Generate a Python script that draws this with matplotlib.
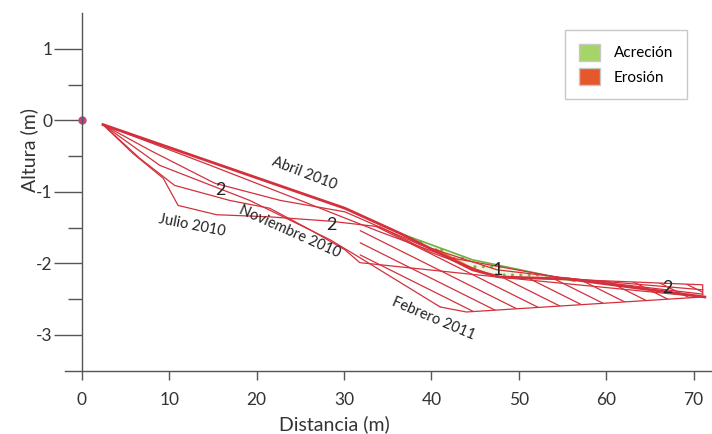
import numpy as np
import matplotlib
matplotlib.use("Agg")
import matplotlib.pyplot as plt
from matplotlib.patches import Polygon, Patch

plt.rcParams['font.family'] = ['Lato', 'DejaVu Sans']
plt.rcParams['axes.unicode_minus'] = False

# perfiles de playa (distancia m, altura m)
abril_x = [2.4, 19.2, 30.1, 36.4, 44.7, 47.8, 55.8, 71.3]
abril_y = [-0.06, -0.77, -1.23, -1.58, -2.09, -2.19, -2.22, -2.47]

acrec_x = [36.4, 44.7, 56.4]
acrec_y = [-1.58, -1.95, -2.25]

p2_x = [2.4, 14.7, 25.0, 34.1, 42.1, 54.7, 71.05]
p2_y = [-0.06, -0.63, -1.12, -1.56, -1.92, -2.20, -2.37]

p3_x = [2.4, 7.8, 15.2, 22.7, 30.1, 38.7, 47.5, 71.05]
p3_y = [-0.06, -0.42, -0.88, -1.12, -1.28, -1.74, -2.09, -2.43]

julio_x = [2.4, 5.8, 9.3, 11.0, 15.4, 21.5, 28.4, 34.1, 39.8, 47.5, 57.0, 71.05, 71.05]
julio_y = [-0.06, -0.46, -0.81, -1.19, -1.32, -1.35, -1.41, -1.49, -1.84, -2.19, -2.23, -2.30, -2.44]

nov_x = [2.4, 6.6, 10.6, 16.9, 21.5, 26.1, 30.1, 31.8, 47.5, 71.05]
nov_y = [-0.06, -0.53, -0.91, -1.12, -1.23, -1.53, -1.81, -1.99, -2.19, -2.47]

feb_x = [2.4, 8.9, 19.2, 28.4, 31.8, 41.0, 44.0, 71.05]
feb_y = [-0.06, -0.63, -1.12, -1.67, -1.92, -2.61, -2.68, -2.47]

etiquetas = ["Abril 2010", "Julio 2010", "Noviembre 2010", "Febrero 2011"]
etiq_x = [25.5, 12.6, 23.8, 40.2]
etiq_y = [-0.74, -1.47, -1.55, -2.78]
etiq_rot = [-21, -11, -24, -23]

zonas = ["2", "2", "1", "2"]
zona_x = [15.8, 28.6, 47.6, 67.0]
zona_y = [-0.98, -1.46, -2.09, -2.34]

rojo = '#d3303c'

fig = plt.figure(figsize=(7.12, 4.34), dpi=100)
ax = fig.add_axes([0.0906, 0.146, 0.908, 0.824])
ax.set_xlim(-2, 72)
ax.set_ylim(-3.5, 1.5)

# zona erosionada con rayado
x_sup = [x for x in julio_x if x >= 31.8]
y_sup = [y for x, y in zip(julio_x, julio_y) if x >= 31.8]
x_inf = [x for x in feb_x if x >= 31.8]
y_inf = [y for x, y in zip(feb_x, feb_y) if x >= 31.8]
verts = list(zip([31.8] + x_sup, [-1.44] + y_sup)) + list(zip(x_inf[::-1], y_inf[::-1]))
zona = Polygon(verts, closed=True, facecolor='none', edgecolor='none')
ax.add_patch(zona)
pend = -0.061
xs = np.array([-2, 72])
for c in np.arange(-3.0, 2.0, 0.17):
    ln, = ax.plot(xs, c + pend * xs, color=rojo, lw=0.9)
    ln.set_clip_path(zona)

# acrecion
verts_a = list(zip(acrec_x, acrec_y)) + [(47.8, -2.19), (44.7, -2.09), (40.5, -1.82)]
ax.add_patch(Polygon(verts_a, closed=True, facecolor='#eef6e2', edgecolor='#7cb342',
                     hatch='..', lw=0))
ax.plot(acrec_x, acrec_y, color='#6db33f', lw=1.2)
ax.plot([40.5, 44.7], [-1.80, -2.07], color='#e8742c', lw=1.2)

for px, py in [(p2_x, p2_y), (p3_x, p3_y), (julio_x, julio_y), (nov_x, nov_y), (feb_x, feb_y)]:
    ax.plot(px, py, color=rojo, lw=0.9)
ax.plot(abril_x, abril_y, color=rojo, lw=2.0)

ax.plot([0], [0], 'o', color='#c8417f', ms=5, clip_on=False)

for t, x, y, r in zip(etiquetas, etiq_x, etiq_y, etiq_rot):
    ax.text(x, y, t, rotation=r, ha='center', va='center', fontsize=10.5, color='#222')
for t, x, y in zip(zonas, zona_x, zona_y):
    ax.text(x, y, t, ha='center', va='center', fontsize=13, color='#222')

ax.spines['top'].set_visible(False)
ax.spines['right'].set_visible(False)
ax.spines['left'].set_position(('data', 0))
for s in ['left', 'bottom']:
    ax.spines[s].set_color('#555555')
    ax.spines[s].set_linewidth(1.0)

ax.set_xticks(range(0, 71, 10))
ax.set_yticks([-3, -2, -1, 0, 1])
ax.set_yticks(np.arange(-2.5, 1.0, 1.0), minor=True)
ax.tick_params(axis='y', which='major', length=20, width=1, color='#555555',
               labelsize=12.5, labelcolor='#333333', pad=1)
ax.tick_params(axis='y', which='minor', length=10, width=1, color='#555555')
ax.tick_params(axis='x', which='major', length=6.5, width=1, color='#555555',
               labelsize=12.5, labelcolor='#333333', pad=9)

ax.set_xlabel('Distancia (m)', fontsize=14, color='#333333')
ax.set_ylabel('Altura (m)', fontsize=14, color='#333333')
ax.xaxis.set_label_coords(0.418, -0.125)
ax.yaxis.set_label_coords(-0.041, 0.617)

handles = [Patch(facecolor='#a6d468', edgecolor='#c8c8c8', label='Acreción'),
           Patch(facecolor='#e5582b', edgecolor='#c8c8c8', label='Erosión')]
leg = ax.legend(handles=handles, loc='upper right', bbox_to_anchor=(0.963, 0.952),
                borderaxespad=0, fontsize=11, fancybox=False, handlelength=1.4,
                handleheight=1.3, borderpad=0.9, labelspacing=0.5, handletextpad=0.9)
leg.get_frame().set_edgecolor('#bbbbbb')

fig.savefig('out.png', dpi=100)
